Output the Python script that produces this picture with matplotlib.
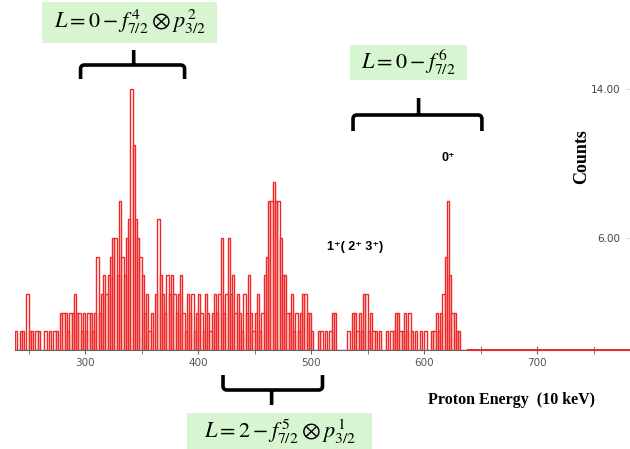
import matplotlib.pyplot as plt
import numpy as np
import matplotlib.transforms as mtransforms
from matplotlib.path import Path
from matplotlib.patches import PathPatch, Rectangle

plt.rcParams['mathtext.fontset'] = 'stix'

# histogram: bins of 2 channels (10 keV units) starting at 238
bin_start = 238
bin_width = 2
counts = [
    1, 0, 1, 1, 0, 3, 1, 1, 0, 1,    # 238
    1, 0, 0, 1, 0, 1, 0, 1, 1, 0,    # 258
    2, 2, 2, 1, 2, 2, 3, 2, 2, 1,    # 278
    2, 1, 2, 2, 1, 2, 5, 2, 3, 4,    # 298
    3, 4, 5, 6, 6, 4, 8, 5, 4, 6,    # 318
    7, 14, 11, 7, 6, 5, 4, 2, 3, 1,  # 338
    2, 0, 3, 7, 4, 3, 2, 4, 3, 4,    # 358
    3, 2, 3, 4, 2, 1, 3, 2, 3, 1,    # 378
    2, 3, 2, 1, 3, 2, 1, 2, 3, 2,    # 398
    3, 6, 2, 3, 6, 3, 4, 2, 3, 2,    # 418
    1, 3, 2, 4, 2, 1, 2, 3, 1, 2,    # 438
    4, 5, 8, 8, 9, 8, 8, 6, 4, 4,    # 458
    2, 2, 3, 1, 2, 1, 2, 3, 3, 2,    # 478
    2, 1, 0, 0, 1, 1, 0, 1, 0, 1,    # 498
    2, 2, 0, 0, 0, 0, 0, 1, 0, 2,    # 518
    2, 1, 2, 1, 3, 3, 1, 2, 1, 1,    # 538
    0, 1, 0, 0, 1, 0, 1, 1, 2, 2,    # 558
    1, 1, 2, 1, 2, 1, 0, 1, 0, 1,    # 578
    0, 1, 0, 0, 1, 1, 2, 1, 2, 3,    # 598
    5, 8, 4, 2, 2, 1, 1, 0, 0, 0,    # 618
]
edges = bin_start + bin_width * np.arange(len(counts) + 1)

x_major = [300, 400, 500, 600, 700]
x_minor = [250, 350, 450, 550, 650, 750]
y_ticks = [6, 14]

W, H = 630, 449
red = '#f02828'
green = '#d8f5d2'


def fy(py):
    return 1 - py / H


fig = plt.figure(figsize=(W / 100, H / 100), dpi=100)
ax = fig.add_axes([15 / W, fy(350), 615 / W, 350 / H])

ax.bar(edges[:-1], counts, width=bin_width, align='edge',
       facecolor='none', edgecolor=red, linewidth=1.0)
ax.set_xlim(238, 782)
ax.set_ylim(0, 350 / 18.65)
ax.hlines(0, edges[-1], ax.get_xlim()[1], color=red, linewidth=1.4,
          zorder=3, clip_on=False)

for s in ['top', 'left', 'right']:
    ax.spines[s].set_visible(False)
ax.spines['bottom'].set_color('#666666')

ax.set_xticks(x_major)
ax.set_xticks(x_minor, minor=True)
ax.tick_params(axis='x', which='both', direction='inout', length=6,
               color='#666666', labelsize=7.5, labelcolor='#555555', pad=3)

ax.yaxis.tick_right()
ax.set_yticks(y_ticks)
ax.set_yticklabels(['%.2f' % v for v in y_ticks])
ax.tick_params(axis='y', direction='in', length=3, color='#dddddd',
               labelsize=7.5, labelcolor='#444444', pad=-7)
for lab in ax.get_yticklabels():
    lab.set_ha('right')

# braces: x in data units, y in figure pixels from the top
trans = mtransforms.blended_transform_factory(ax.transData, fig.transFigure)


def brace(x0, x1, xm, y_line, y_end, y_tip):
    dx = 3.5
    r = 4 if y_end > y_line else -4
    verts = [(x0, fy(y_end)), (x0, fy(y_line + r)), (x0, fy(y_line)),
             (x0 + dx, fy(y_line)), (x1 - dx, fy(y_line)), (x1, fy(y_line)),
             (x1, fy(y_line + r)), (x1, fy(y_end)),
             (xm, fy(y_line)), (xm, fy(y_tip))]
    codes = [Path.MOVETO, Path.LINETO, Path.CURVE3, Path.CURVE3, Path.LINETO,
             Path.CURVE3, Path.CURVE3, Path.LINETO, Path.MOVETO, Path.LINETO]
    ax.add_patch(PathPatch(Path(verts, codes), transform=trans, clip_on=False,
                           facecolor='none', edgecolor='black', linewidth=2.6,
                           capstyle='butt', joinstyle='round'))


brace(296, 388, 343, 65, 79, 50)
brace(537, 651, 595, 115, 131, 98)
brace(422, 510, 465, 390, 375, 405)

# green label boxes
boxes = [
    (42, 2, 175, 41, r'$L=0-f_{7/2}^{\,4}\otimes p_{3/2}^{\,2}$', 130, 22),
    (350, 45, 117, 35, r'$L=0-f_{7/2}^{\,6}$', 408, 62),
    (187, 413, 185, 40, r'$L=2-f_{7/2}^{\,5}\otimes p_{3/2}^{\,1}$', 280, 432),
]
for bx, by, bw, bh, txt, tx, ty in boxes:
    fig.add_artist(Rectangle((bx / W, fy(by + bh)), bw / W, bh / H,
                             transform=fig.transFigure, facecolor=green,
                             edgecolor='none'))
    fig.text(tx / W, fy(ty), txt, fontsize=16, ha='center', va='center')

sans = ['Liberation Sans', 'DejaVu Sans']
fig.text(448 / W, fy(158), '0⁺', family=sans, fontweight='bold',
         fontsize=9, ha='center', va='center')
fig.text(355 / W, fy(247), '1⁺( 2⁺ 3⁺)', family=sans, fontweight='bold',
         fontsize=9, ha='center', va='center')

fig.text(582 / W, fy(157), 'Counts', family='Liberation Serif',
         fontweight='bold', fontsize=13, rotation=90, ha='center', va='center')
fig.text(512 / W, fy(400), 'Proton Energy  (10 keV)', family='Liberation Serif',
         fontweight='bold', fontsize=11.5, ha='center', va='center')

fig.savefig('out.png', dpi=100)
